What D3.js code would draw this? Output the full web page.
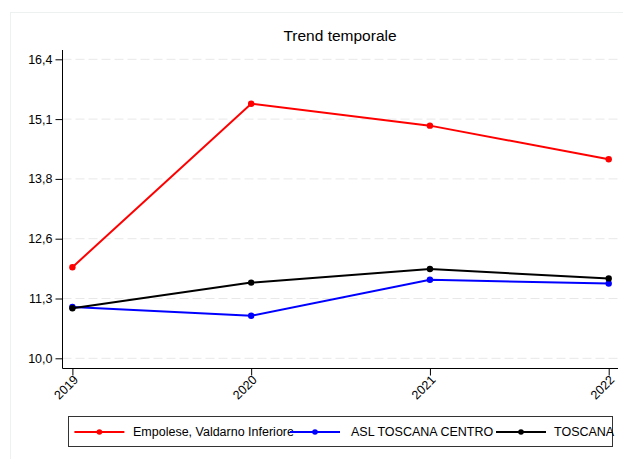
<!DOCTYPE html>
<html><head><meta charset="utf-8">
<script src="https://cdn.jsdelivr.net/npm/d3@7"></script>
<style>body{margin:0;background:#fff}svg{display:block;font-family:"Liberation Sans",Arial,sans-serif}</style>
</head><body>
<svg id="c" width="623" height="459"></svg>
<script>
const years = [2019, 2020, 2021, 2022];
const yTicks = [10.0, 11.28, 12.56, 13.84, 15.12, 16.4];
const seriesNames = ["Empolese, Valdarno Inferiore", "ASL TOSCANA CENTRO", "TOSCANA"];
const seriesColors = ["#ff0000", "#0000ff", "#000000"];
const empoleseValues = [11.95, 15.45, 14.98, 14.26];
const aslValues = [11.10, 10.91, 11.68, 11.60];
const toscanaValues = [11.07, 11.62, 11.91, 11.71];
const allValues = [empoleseValues, aslValues, toscanaValues];

const svg = d3.select("#c");
// faint outer frame
svg.append("rect").attr("x",10.5).attr("y",12.5).attr("width",640).attr("height",460)
  .attr("fill","none").attr("stroke","#edf2f0").attr("stroke-width",1);

const x = d3.scalePoint().domain(years).range([72.4, 608.7]);
const y = d3.scaleLinear().domain([10, 16.4]).range([358.3, 59.3]);
const axisX = 62.5, axisY = 368.5;

// gridlines
svg.append("g").selectAll("line").data(yTicks).join("line")
  .attr("x1", axisX).attr("x2", 618).attr("y1", d => y(d)).attr("y2", d => y(d))
  .attr("stroke", "#e8e8e8").attr("stroke-width", 1).attr("stroke-dasharray", "9,4");

// y axis
const fmt = d => d3.format(".1f")(d).replace(".", ",");
const gy = svg.append("g").attr("transform", `translate(${axisX},0)`)
  .call(d3.axisLeft(y).tickValues(yTicks).tickSize(7).tickPadding(3).tickFormat(fmt));
gy.select(".domain").attr("d", `M0,50V${axisY}`).attr("stroke", "#000");
gy.selectAll(".tick line").attr("stroke", "#000");
gy.selectAll("text").attr("font-size", "12.5px").attr("fill", "#000").attr("font-family", "Liberation Sans, Arial, sans-serif");

// x axis
const gx = svg.append("g").attr("transform", `translate(0,${axisY})`)
  .call(d3.axisBottom(x).tickSize(7).tickPadding(2));
gx.select(".domain").attr("d", `M${axisX},0H618`).attr("stroke", "#000");
gx.selectAll(".tick line").attr("stroke", "#000");
gx.selectAll("text").attr("font-size", "12.5px").attr("fill", "#000")
  .attr("font-family", "Liberation Sans, Arial, sans-serif")
  .attr("text-anchor", "end").attr("dy", "0.35em")
  .attr("transform", "translate(3,9) rotate(-45)").attr("y", 0).attr("x", 0);

// lines
const line = d3.line().x((d, i) => x(years[i])).y(d => y(d));
allValues.forEach((vals, si) => {
  svg.append("path").attr("d", line(vals)).attr("fill", "none")
    .attr("stroke", seriesColors[si]).attr("stroke-width", 2);
  svg.append("g").selectAll("circle").data(vals).join("circle")
    .attr("cx", (d, i) => x(years[i])).attr("cy", d => y(d)).attr("r", 3.2)
    .attr("fill", seriesColors[si]);
});

// title
svg.append("text").attr("x", 340).attr("y", 41).attr("text-anchor", "middle")
  .attr("font-size", "15.5px").attr("fill", "#000").text("Trend temporale");

// legend
svg.append("rect").attr("x", 68.5).attr("y", 416.5).attr("width", 544).attr("height", 30)
  .attr("fill", "#fff").attr("stroke", "#333").attr("stroke-width", 1);
const legX = [74.4, 290, 496];
const legTextX = [133, 351, 554];
seriesNames.forEach((n, i) => {
  svg.append("line").attr("x1", legX[i]).attr("x2", legX[i] + 50).attr("y1", 432).attr("y2", 432)
    .attr("stroke", seriesColors[i]).attr("stroke-width", 2);
  svg.append("circle").attr("cx", legX[i] + 25).attr("cy", 432).attr("r", 2.8).attr("fill", seriesColors[i]);
  svg.append("text").attr("x", legTextX[i]).attr("y", 432).attr("dy", "0.35em")
    .attr("font-size", "12.5px").attr("fill", "#000").text(n);
});
</script>
</body></html>
